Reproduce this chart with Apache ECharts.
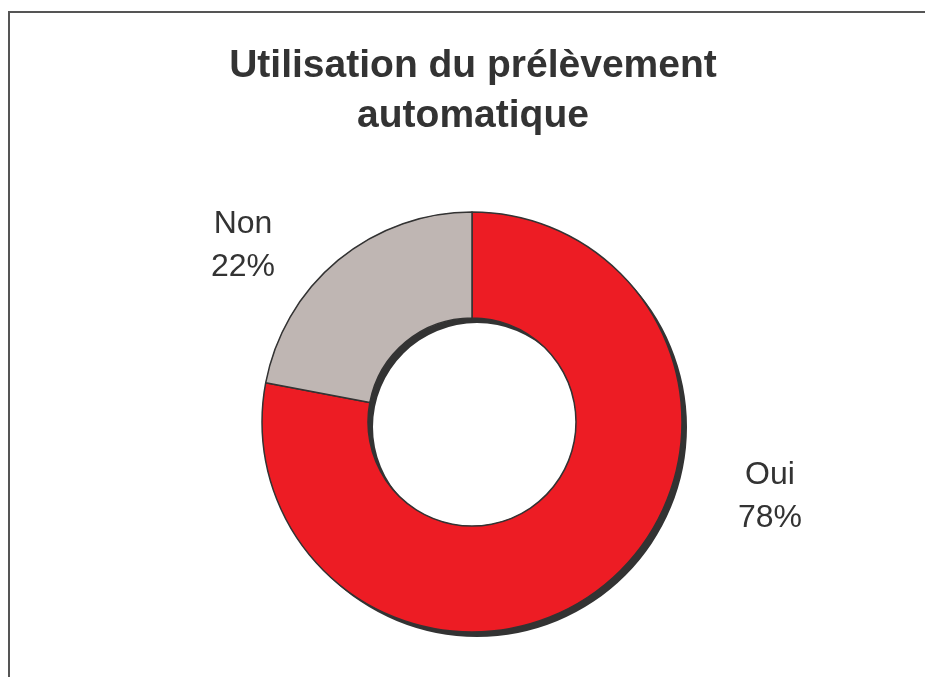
<!DOCTYPE html>
<html>
<head>
<meta charset="utf-8">
<script src="https://cdn.jsdelivr.net/npm/echarts@6/dist/echarts.min.js"></script>
<style>
  html, body { margin: 0; padding: 0; background: #fff; }
  #chart { width: 925px; height: 677px; }
</style>
</head>
<body>
<div id="chart"></div>
<script>
// donnees
var categories = ['Oui', 'Non'];
var values = [78, 22];
var colors = ['#ED1C24', '#BFB6B3'];
var labelPos = [[770, 497], [243, 246]];
var titleText = 'Utilisation du prélèvement\nautomatique';

var chart = echarts.init(document.getElementById('chart'));

var pieData = categories.map(function (c, i) {
  return { name: c, value: values[i], itemStyle: { color: colors[i] } };
});
var total = values.reduce(function (a, b) { return a + b; }, 0);

chart.setOption({
  animation: false,
  graphic: [{
    type: 'polyline',
    silent: true,
    shape: { points: [[9, 677], [9, 12], [925, 12]] },
    style: { stroke: '#555555', lineWidth: 2, fill: null }
  }, {
    type: 'text',
    silent: true,
    x: 473,
    y: 41,
    style: {
      text: titleText,
      align: 'center',
      verticalAlign: 'top',
      font: 'bold 39px "Liberation Sans", Arial, sans-serif',
      lineHeight: 50,
      fill: '#333333'
    }
  }],
  series: [
    {
      // ombre de l'anneau
      type: 'pie',
      silent: true,
      center: [472, 422],
      radius: [104, 210],
      startAngle: 90,
      label: { show: false },
      labelLine: { show: false },
      data: [{ value: total }],
      itemStyle: {
        color: '#333333',
        shadowColor: '#333333',
        shadowBlur: 0,
        shadowOffsetX: 5,
        shadowOffsetY: 5
      },
      z: 1
    },
    {
      type: 'pie',
      center: [472, 422],
      radius: [104, 210],
      startAngle: 90,
      clockwise: true,
      data: pieData,
      itemStyle: { borderColor: '#333333', borderWidth: 1.5 },
      label: {
        show: true,
        position: 'outside',
        formatter: '{b}\n{d}%',
        fontFamily: 'Liberation Sans, Arial, sans-serif',
        fontSize: 32,
        lineHeight: 43,
        color: '#333333',
        align: 'center'
      },
      labelLine: { show: false },
      labelLayout: function (params) {
        var p = labelPos[params.dataIndex];
        return { x: p[0], y: p[1], align: 'center', verticalAlign: 'middle' };
      },
      emphasis: { disabled: true },
      z: 2
    }
  ]
});
</script>
</body>
</html>
